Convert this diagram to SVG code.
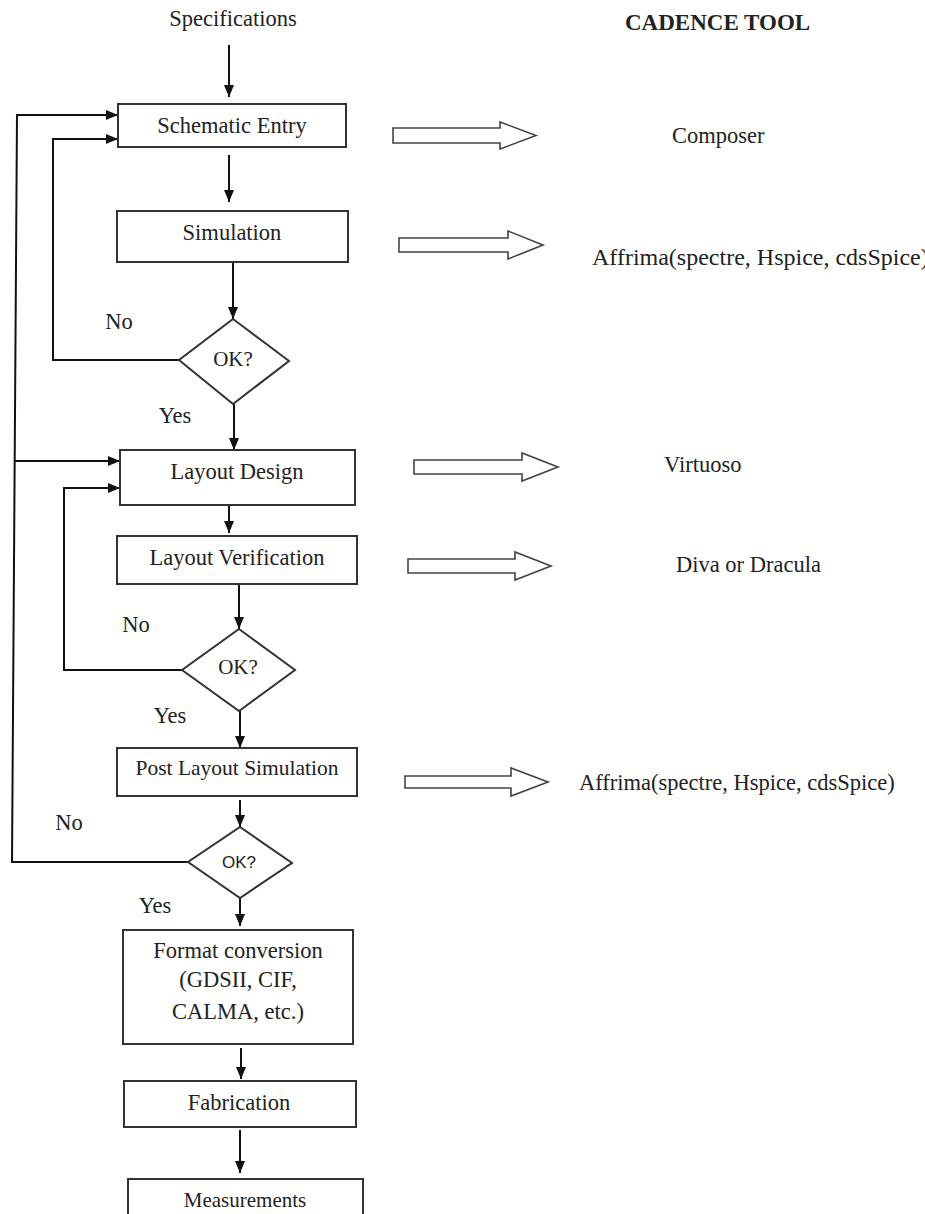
<svg xmlns="http://www.w3.org/2000/svg" width="925" height="1214" viewBox="0 0 925 1214">
<defs>
<marker id="ah" viewBox="0 0 12 10" refX="12" refY="5" markerWidth="12" markerHeight="10" markerUnits="userSpaceOnUse" orient="auto">
<path d="M0,0 L12,5 L0,10 Z" fill="#111"/>
</marker>
<style>
.t{font-family:"Liberation Serif","Times New Roman",serif;font-size:22.5px;fill:#222;}
.c{text-anchor:middle;}
.box{fill:#fff;stroke:#333;stroke-width:2;}
.dia{fill:#fff;stroke:#333;stroke-width:2;}
.ln{fill:none;stroke:#111;stroke-width:2;}
.arr{fill:none;stroke:#111;stroke-width:2;marker-end:url(#ah);}
.blk{fill:#fff;stroke:#444;stroke-width:1.6;stroke-linejoin:miter;}
.s{font-family:"Liberation Sans",Arial,sans-serif;font-size:17px;fill:#222;}
</style>
</defs>
<rect width="925" height="1214" fill="#fff"/>

<g id="connectors">
<line class="arr" x1="229" y1="45" x2="229" y2="97"/>
<line class="arr" x1="229" y1="155" x2="229" y2="202"/>
<line class="arr" x1="233" y1="262" x2="233" y2="319"/>
<line class="arr" x1="234" y1="404" x2="234" y2="450"/>
<line class="arr" x1="229" y1="505" x2="229" y2="533"/>
<line class="arr" x1="239" y1="584" x2="239" y2="629"/>
<line class="arr" x1="240" y1="711" x2="240" y2="748"/>
<line class="arr" x1="240" y1="800" x2="240" y2="827"/>
<line class="arr" x1="240" y1="898" x2="240" y2="926"/>
<line class="arr" x1="241" y1="1048" x2="241" y2="1079"/>
<line class="arr" x1="240" y1="1130" x2="240" y2="1173"/>
<polyline class="arr" points="188,862 12,862 17,115 118,115"/>
<line class="arr" x1="15" y1="461" x2="120" y2="461"/>
<polyline class="arr" points="179,360 53,360 53,139 118,139"/>
<polyline class="arr" points="182,670 64,670 64,488 120,488"/>
<path class="blk" d="M393,128 H500 V122 L536,135.5 L500,149 V143 H393 Z"/>
<path class="blk" d="M399,238 H508 V231 L543,245 L508,259 V252 H399 Z"/>
<path class="blk" d="M414,460 H522 V453 L558,467 L522,481 V474 H414 Z"/>
<path class="blk" d="M408,559 H515 V552 L551,566 L515,580 V573 H408 Z"/>
<path class="blk" d="M405,776 H511 V768 L548,782 L511,796 V788 H405 Z"/>
<text class="t c" x="119" y="329">No</text>
<text class="t c" x="175" y="423">Yes</text>
<text class="t c" x="136" y="632">No</text>
<text class="t c" x="170" y="723">Yes</text>
<text class="t c" x="69" y="830">No</text>
<text class="t c" x="155" y="913">Yes</text>
</g>

<g id="specifications"><text class="t c" x="233" y="26">Specifications</text></g>
<g id="cadence-tool"><text class="t" x="625" y="30" style="font-weight:bold;font-size:23px">CADENCE TOOL</text></g>

<g id="schematic-entry">
<rect class="box" x="118" y="104" width="228" height="43"/>
<text class="t c" x="232" y="133">Schematic Entry</text>
</g>
<g id="simulation">
<rect class="box" x="117" y="211" width="231" height="51"/>
<text class="t c" x="232" y="240">Simulation</text>
</g>
<g id="ok1">
<polygon class="dia" points="233,319 289,361 233,404 179,360"/>
<text class="t c" x="233" y="366" style="font-size:21px">OK?</text>
</g>
<g id="layout-design">
<rect class="box" x="120" y="450" width="235" height="55"/>
<text class="t c" x="237" y="479">Layout Design</text>
</g>
<g id="layout-verification">
<rect class="box" x="117" y="536" width="240" height="48"/>
<text class="t c" x="237" y="565">Layout Verification</text>
</g>
<g id="ok2">
<polygon class="dia" points="239,629 295,670 239,711 182,670"/>
<text class="t c" x="238" y="674" style="font-size:21px">OK?</text>
</g>
<g id="post-layout-simulation">
<rect class="box" x="117" y="748" width="240" height="48"/>
<text class="t c" x="237" y="775" style="font-size:21.5px">Post Layout Simulation</text>
</g>
<g id="ok3">
<polygon class="dia" points="240,827 292,863 240,898 188,862"/>
<text class="s c" x="239" y="868">OK?</text>
</g>
<g id="format-conversion">
<rect class="box" x="123" y="930" width="230" height="114"/>
<text class="t c" x="238" y="958">Format conversion</text>
<text class="t c" x="238" y="987">(GDSII, CIF,</text>
<text class="t c" x="238" y="1019">CALMA, etc.)</text>
</g>
<g id="fabrication">
<rect class="box" x="124" y="1081" width="232" height="46"/>
<text class="t c" x="239" y="1110">Fabrication</text>
</g>
<g id="measurements">
<rect class="box" x="128" y="1179" width="235" height="60"/>
<text class="t c" x="245" y="1207" style="font-size:21px">Measurements</text>
</g>

<g id="composer"><text class="t" x="672" y="143">Composer</text></g>
<g id="affrima-1"><text class="t" x="592" y="265" style="font-size:24px">Affrima(spectre, Hspice, cdsSpice)</text></g>
<g id="virtuoso"><text class="t" x="664" y="472">Virtuoso</text></g>
<g id="diva"><text class="t" x="676" y="572">Diva or Dracula</text></g>
<g id="affrima-2"><text class="t" x="579" y="790">Affrima(spectre, Hspice, cdsSpice)</text></g>
</svg>
